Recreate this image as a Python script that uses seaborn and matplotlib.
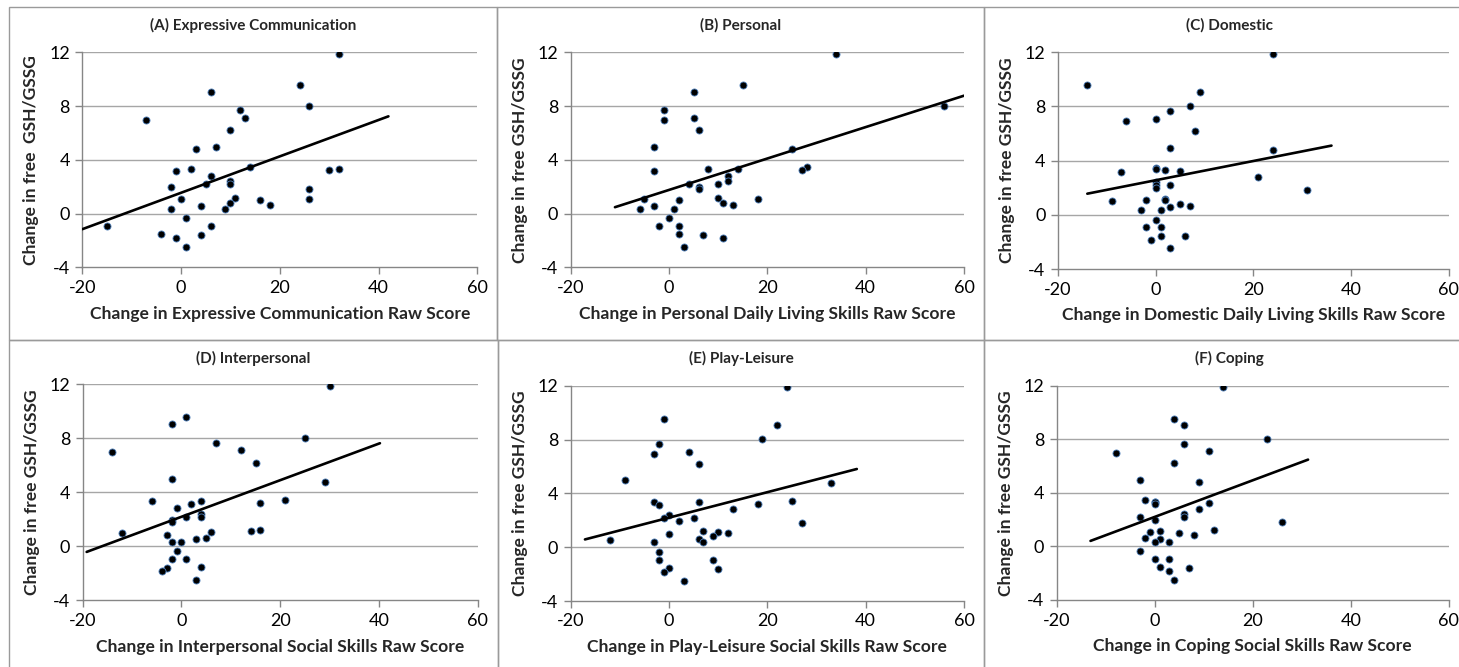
import numpy as np
import pandas as pd
import matplotlib
matplotlib.use("Agg")
import matplotlib.pyplot as plt
from matplotlib.patches import Rectangle
import seaborn as sns

# ---- data ----
y_gsh = [11.9, 9.55, 9.08, 8.04, 7.67, 7.1, 6.95, 6.2, 4.96, 4.79, 3.45, 3.35, 3.33, 3.23, 3.15,
         2.8, 2.4, 2.18, 2.18, 1.98, 1.81, 1.19, 1.12, 1.07, 0.99, 0.82, 0.62, 0.55, 0.35, 0.35,
         -0.35, -0.92, -0.92, -1.54, -1.59, -1.84, -2.48]

x_expressive = [32, 24, 6, 26, 12, 13, -7, 10, 7, 3, 14, 2, 32, 30, -1, 6, 10, 10, 5, -2,
                26, 11, 26, 0, 16, 10, 18, 4, 9, -2, 1, -15, 6, -4, 4, -1, 1]
x_personal = [34, 15, 5, 56, -1, 5, -1, 6, -3, 25, 28, 14, 8, 27, -3, 12, 12, 10, 4, 6,
              6, 10, -5, 18, 2, 11, 13, -3, -6, 1, 0, -2, 2, 2, 7, 11, 3]
x_domestic = [24, -14, 9, 7, 3, 0, -6, 8, 3, 24, 0, 0, 2, 5, -7, 21, 0, 0, 3, 0,
              31, 2, 2, -2, -9, 5, 7, 3, 1, -3, 0, -2, 1, 6, 1, -1, 3]
x_interpersonal = [30, 1, -2, 25, 7, 12, -14, 15, -2, 29, 21, 4, -6, 16, 2, -1, 4, 4, 1, -2,
                   -2, 16, 14, 6, -12, -3, 5, 3, -2, 0, -1, 1, -2, 4, -3, -4, 3]
x_play = [24, -1, 22, 19, -2, 4, -3, 6, -9, 33, 25, -3, 6, 18, -2, 13, 0, -1, 5, 2,
          27, 7, 10, 12, 0, 9, 6, -12, -3, 7, -2, -2, 9, 0, 10, -1, 3]
x_coping = [14, 4, 6, 23, 6, 11, -8, 4, -3, 9, -2, 0, 0, 11, 0, 9, 6, 6, -3, 0,
            26, 12, 1, -1, 5, 8, -2, 1, 3, 0, -3, 0, 3, 1, 7, 3, 4]

titles = ["(A) Expressive Communication", "(B) Personal", "(C) Domestic",
          "(D) Interpersonal", "(E) Play-Leisure", "(F) Coping"]
xlabels = ["Change in Expressive Communication Raw Score",
           "Change in Personal Daily Living Skills Raw Score",
           "Change in Domestic Daily Living Skills Raw Score",
           "Change in Interpersonal Social Skills Raw Score",
           "Change in Play-Leisure Social Skills Raw Score",
           "Change in Coping Social Skills Raw Score"]
ylabels = ["Change in free  GSH/GSSG"] + ["Change in free GSH/GSSG"] * 5
trend_extent = [[-20, 42], [-11, 60], [-14, 36], [-19.2, 40.2], [-17.1, 38.2], [-13.1, 31.3]]
x_ticks = [-20, 0, 20, 40, 60]
y_ticks = [-4, 0, 4, 8, 12]

x_series = [x_expressive, x_personal, x_domestic, x_interpersonal, x_play, x_coping]

# ---- layout (pixels) ----
W, H = 1459, 667
plot_boxes = [  # left, right, top, bottom
    (82.3, 477.3, 52.3, 267.3), (570.7, 964, 52.3, 267.3), (1058, 1448.7, 52.3, 269),
    (82.7, 477.7, 384.3, 600.3), (570.7, 964, 385.7, 601), (1056.7, 1448.7, 385.7, 600)]
chart_boxes = [(9, 497, 7, 340), (497, 984, 7, 340), (984, 1475, 7, 340),
               (9, 498, 340, 690), (498, 984, 340, 690), (984, 1475, 340, 690)]

sns.set_theme(style="white")
plt.rcParams['font.family'] = ['Lato', 'DejaVu Sans']

fig = plt.figure(figsize=(W / 100, H / 100), dpi=100)
fig.patch.set_facecolor("white")

grid_c = "#A6A6A6"
axis_c = "#868686"

for i in range(6):
    l, r, t, b = plot_boxes[i]
    ax = fig.add_axes([l / W, 1 - b / H, (r - l) / W, (b - t) / H])
    df = pd.DataFrame({"x": x_series[i], "y": y_gsh})
    sns.scatterplot(data=df, x="x", y="y", ax=ax, color="black", s=26,
                    edgecolor="#4F81BD", linewidth=0.6, zorder=3)
    slope, intercept = np.polyfit(df["x"], df["y"], 1)
    tx = np.array(trend_extent[i])
    ax.plot(tx, slope * tx + intercept, color="black", lw=1.9, zorder=4)

    ax.set_xlim(-20, 60)
    ax.set_ylim(-4, 12)
    ax.set_xticks(x_ticks)
    ax.set_yticks(y_ticks)
    ax.set_xticklabels([str(v) for v in x_ticks])
    ax.set_yticklabels([str(v) for v in y_ticks])
    for yv in y_ticks[1:]:
        ax.axhline(yv, color=grid_c, lw=1.0, zorder=1)
    for s in ["top", "right"]:
        ax.spines[s].set_visible(False)
    for s in ["left", "bottom"]:
        ax.spines[s].set_color(axis_c)
        ax.spines[s].set_linewidth(1.0)
    ax.tick_params(axis="both", which="major", direction="out", length=5, width=1,
                   color=axis_c, labelsize=13, labelcolor="black", pad=4, bottom=True, left=True)
    ax.set_xlabel(xlabels[i], fontsize=12.6, fontweight="bold", labelpad=7)
    ax.set_ylabel(ylabels[i], fontsize=12.6, fontweight="bold", labelpad=7)
    ax.grid(False)

    cl, cr, ct, cb = chart_boxes[i]
    fig.text(((cl + cr) / 2) / W, 1 - (ct + 18) / H, titles[i], ha="center", va="center",
             fontsize=11, fontweight="bold")
    fig.add_artist(Rectangle((cl / W, 1 - cb / H), (cr - cl) / W, (cb - ct) / H,
                             transform=fig.transFigure, fill=False,
                             edgecolor="#9A9A9A", lw=1.0, clip_on=False))

fig.savefig("out.png", dpi=100, facecolor="white")
